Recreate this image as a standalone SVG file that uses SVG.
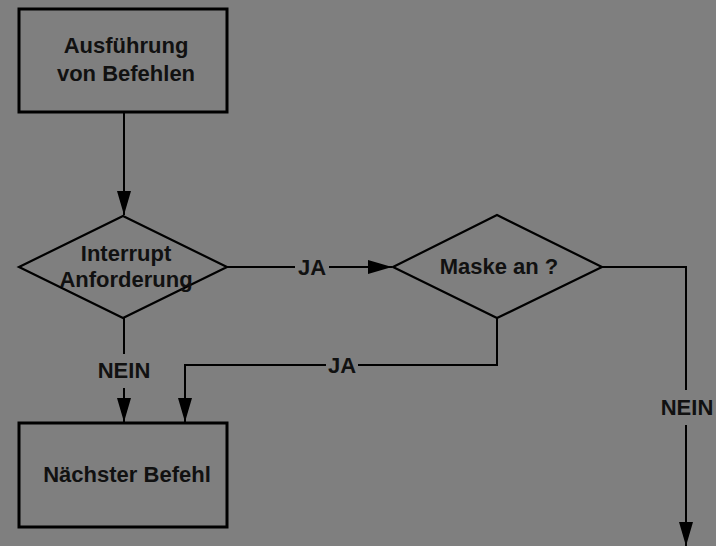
<svg xmlns="http://www.w3.org/2000/svg" width="716" height="546" viewBox="0 0 716 546">
  <defs>
    <style>
      .box { fill: none; stroke: #000; stroke-width: 3; }
      .dia { fill: none; stroke: #000; stroke-width: 2.2; stroke-linejoin: miter; }
      .ln { fill: none; stroke: #000; stroke-width: 2; }
      .t { font-family: "Liberation Sans", Arial, sans-serif; font-size: 22px; font-weight: bold; fill: #111; text-anchor: middle; }
    </style>
    <marker id="arr" markerUnits="userSpaceOnUse" markerWidth="24" markerHeight="14" refX="24" refY="7" orient="auto">
      <path d="M0,0 L24,7 L0,14 Z" fill="#000"/>
    </marker>
  </defs>
  <rect width="716" height="546" fill="#7f7f7f"/>

  <g id="connectors">
    <path class="ln" d="M124,112 V215" marker-end="url(#arr)"/>
    <path class="ln" d="M227,267 H295"/>
    <path class="ln" d="M329,267 H392" marker-end="url(#arr)"/>
    <path class="ln" d="M124,318 V354"/>
    <path class="ln" d="M124,388 V422" marker-end="url(#arr)"/>
    <path class="ln" d="M497,318 V365 H358"/>
    <path class="ln" d="M326,365 H185 V422" marker-end="url(#arr)"/>
    <path class="ln" d="M602,267 H686 V390"/>
    <path class="ln" d="M686,425 V546" marker-end="url(#arr)"/>
    <text class="t" x="312" y="275">JA</text>
    <text class="t" x="124" y="378">NEIN</text>
    <text class="t" x="342" y="373">JA</text>
    <text class="t" x="687" y="415">NEIN</text>
  </g>

  <g id="ausfuehrung">
    <rect class="box" x="19" y="9" width="208" height="103"/>
    <text class="t" x="126" y="53">Ausführung</text>
    <text class="t" x="126" y="81">von Befehlen</text>
  </g>

  <g id="interrupt">
    <polygon class="dia" points="123,216 227,267 123,318 19,267"/>
    <text class="t" x="126" y="261">Interrupt</text>
    <text class="t" x="126" y="287">Anforderung</text>
  </g>

  <g id="maske">
    <polygon class="dia" points="497,215 602,267 497,318 393,267"/>
    <text class="t" x="499" y="274">Maske an ?</text>
  </g>

  <g id="naechster">
    <rect class="box" x="19" y="423" width="208" height="104"/>
    <text class="t" x="127" y="482">Nächster Befehl</text>
  </g>
</svg>
